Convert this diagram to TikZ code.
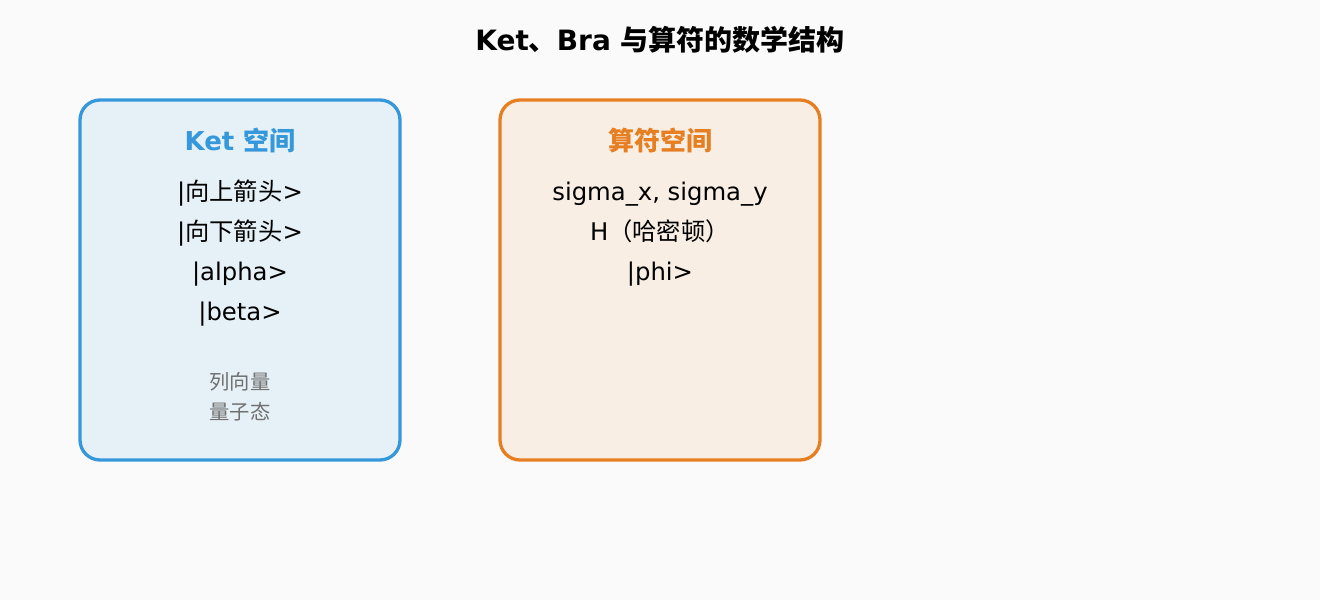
\documentclass[tikz,border=0pt]{standalone}
\usepackage{fontspec}
\setmainfont{DejaVu Sans}
\newfontfamily\cjk{Noto Sans CJK SC}
\definecolor{bg}{HTML}{FAFAFA}
\definecolor{kblue}{HTML}{3498DB}
\definecolor{kbluefill}{HTML}{E6F0F7}
\definecolor{korange}{HTML}{E67E22}
\definecolor{korangefill}{HTML}{F8EEE4}
\definecolor{kgray}{HTML}{707070}
\tikzset{
  panel/.style={line width=3.3pt, rounded corners=20pt},
  heading/.style={anchor=base, font=\fontsize{26}{30}\selectfont\bfseries},
  item/.style={anchor=base, font=\fontsize{24.3}{28}\selectfont, text=black},
  note/.style={anchor=base, font=\fontsize{20.3}{24}\selectfont, text=kgray},
  titlestyle/.style={anchor=base, font=\fontsize{28}{32}\selectfont\bfseries, text=black}
}
\begin{document}
\begin{tikzpicture}[x=1pt,y=-1pt]
\path[fill=bg, use as bounding box] (0,0) rectangle (1320,600);
\node[titlestyle] (title) at (660,50) {Ket{\cjk 、}Bra {\cjk 与算符的数学结构}};
% Ket panel
\draw[panel, draw=kblue, fill=kbluefill] (80,100) rectangle (400,460);
\node[heading, text=kblue] (kethead) at (240,150) {Ket {\cjk 空间}};
\node[item] (k1) at (240,200) {|{\cjk 向上箭头}>};
\node[item] (k2) at (240,240) {|{\cjk 向下箭头}>};
\node[item] (k3) at (240,280) {|alpha>};
\node[item] (k4) at (240,320) {|beta>};
\node[note] (kn1) at (240,389) {\cjk 列向量};
\node[note] (kn2) at (240,419) {\cjk 量子态};
% Operator panel
\draw[panel, draw=korange, fill=korangefill] (500,100) rectangle (820,460);
\node[heading, text=korange] (ophead) at (660,150) {\cjk 算符空间};
\node[item] (o1) at (660,200) {sigma\_x, sigma\_y};
\node[item] (o2) at (660,240) {H{\cjk （哈密顿）}};
\node[item] (o3) at (660,280) {|phi>};
\end{tikzpicture}
\end{document}
